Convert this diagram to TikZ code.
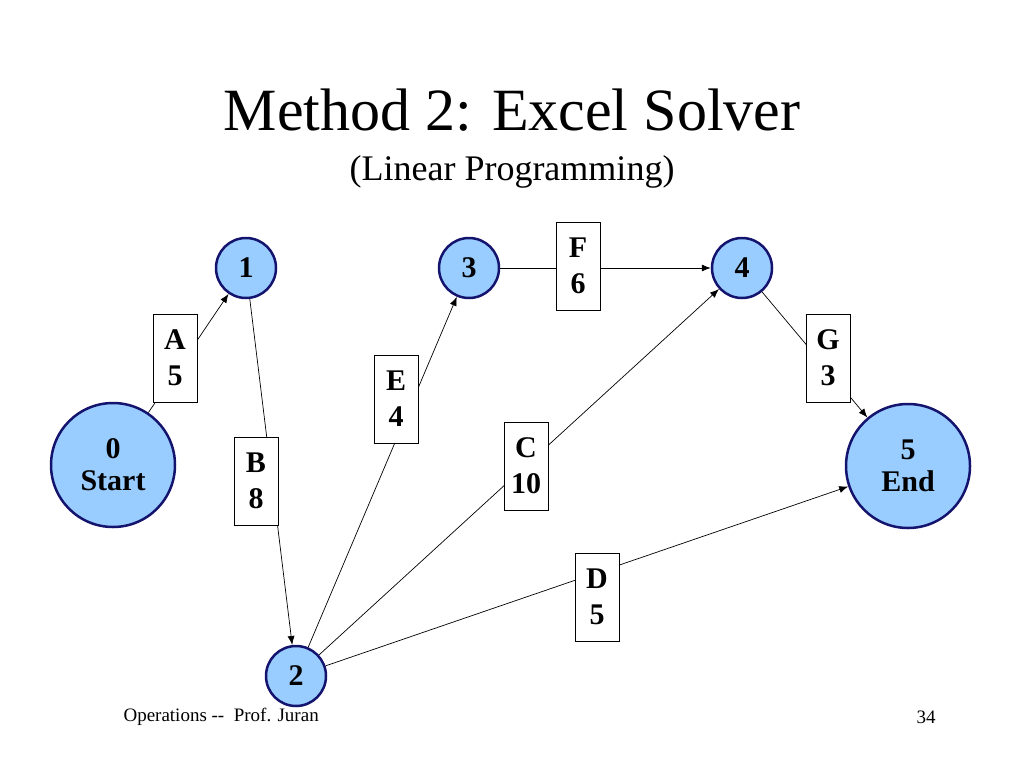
\documentclass[tikz,border=0pt]{standalone}
\usepackage{fontspec}
\setmainfont{Liberation Serif}
\usetikzlibrary{arrows.meta}
\begin{document}
\begin{tikzpicture}[x=1pt,y=-1pt,
  ev/.style={circle,draw={rgb,255:red,20;green,20;blue,110},line width=2.5pt,fill={rgb,255:red,153;green,204;blue,255},inner sep=0pt,font=\fontsize{30}{32}\selectfont\bfseries,align=center},
  sm/.style={ev,minimum size=60pt},
  bg/.style={ev,minimum size=124pt},
  lab/.style={draw,fill=white,line width=0.6pt,minimum width=44pt,minimum height=88pt,font=\fontsize{30}{36}\selectfont\bfseries,align=center,inner sep=2pt},
  ar/.style={-{Latex[length=9pt,width=7pt]},line width=0.7pt}]
\useasboundingbox (0,0) rectangle (1024,768);
\node at (512,110) {\fontsize{60}{64}\selectfont Method 2: Excel Solver};
\node at (512,172) {\fontsize{36}{40}\selectfont (Linear Programming)};
\node[anchor=west] at (120,717) {\fontsize{19}{22}\selectfont Operations -{}- \ Prof. Juran};
\node at (926,717) {\fontsize{19}{22}\selectfont 34};
\node[bg] (n0) at (113,465) {0\\Start};
\node[bg] (n5) at (908,466) {5\\End};
\node[sm] (n1) at (246,268) {1};
\node[sm] (n3) at (469,268) {3};
\node[sm] (n4) at (742,268) {4};
\node[sm] (n2) at (296,676) {2};
\draw[ar] (n0) -- (n1);
\draw[ar] (n1) -- (n2);
\draw[ar] (n2) -- (n3);
\draw[ar] (n3) -- (n4);
\draw[ar] (n2) -- (n4);
\draw[ar] (n4) -- (n5);
\draw[ar] (n2) -- (n5);
\node[lab] (lA) at (175,358) {A\\5};
\node[lab] (lB) at (256,481) {B\\8};
\node[lab] (lE) at (396,399) {E\\4};
\node[lab] (lF) at (578,266) {F\\6};
\node[lab] (lC) at (526,466) {C\\10};
\node[lab] (lG) at (828,358) {G\\3};
\node[lab] (lD) at (597,597) {D\\5};
\end{tikzpicture}
\end{document}
